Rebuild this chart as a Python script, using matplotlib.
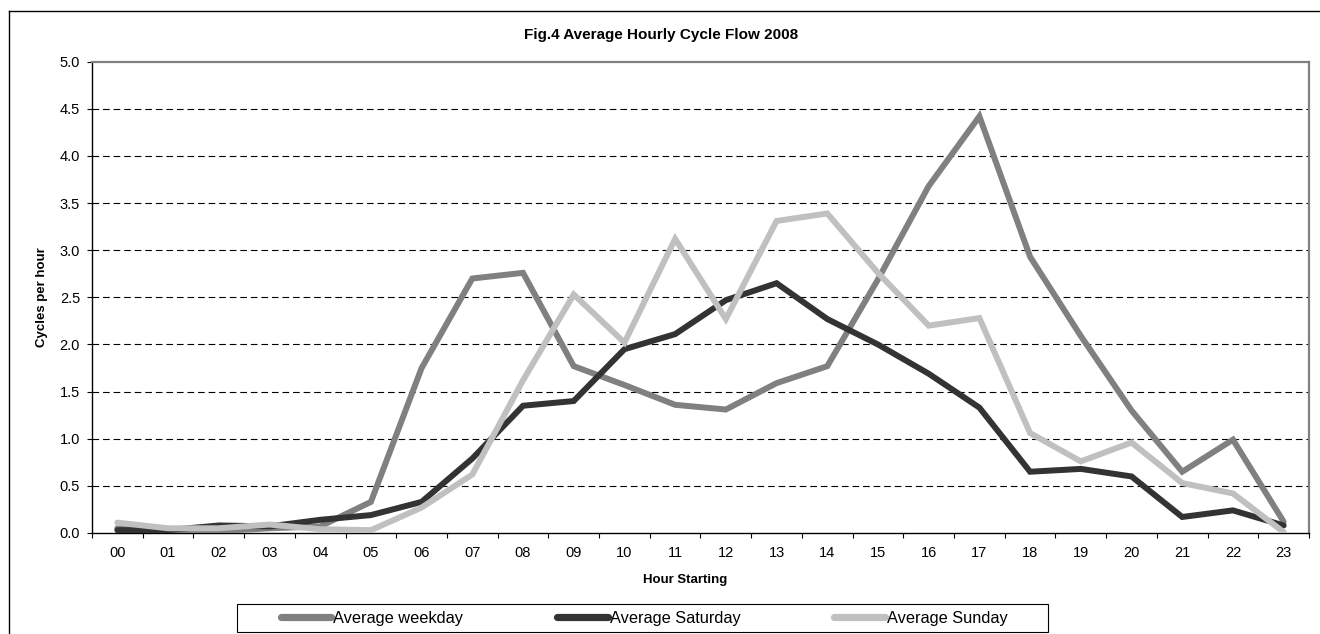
import matplotlib
matplotlib.use("Agg")
import matplotlib.pyplot as plt
from matplotlib.lines import Line2D
from matplotlib.patches import Rectangle
import numpy as np

hours = ["00", "01", "02", "03", "04", "05", "06", "07", "08", "09", "10", "11",
         "12", "13", "14", "15", "16", "17", "18", "19", "20", "21", "22", "23"]
weekday = [0.05, 0.03, 0.02, 0.05, 0.07, 0.33, 1.75, 2.70, 2.76, 1.77, 1.57, 1.36,
           1.31, 1.59, 1.77, 2.69, 3.68, 4.42, 2.93, 2.09, 1.30, 0.65, 0.99, 0.12]
saturday = [0.03, 0.03, 0.08, 0.07, 0.14, 0.19, 0.33, 0.79, 1.35, 1.40, 1.95, 2.11,
            2.47, 2.65, 2.27, 2.00, 1.69, 1.33, 0.65, 0.68, 0.60, 0.17, 0.24, 0.08]
sunday = [0.11, 0.05, 0.05, 0.09, 0.04, 0.03, 0.27, 0.62, 1.62, 2.53, 2.02, 3.12,
          2.27, 3.31, 3.39, 2.76, 2.20, 2.28, 1.06, 0.76, 0.96, 0.53, 0.42, 0.01]
series_names = ["Average weekday", "Average Saturday", "Average Sunday"]
series_colors = ["#808080", "#333333", "#c0c0c0"]
yticks = [0.0, 0.5, 1.0, 1.5, 2.0, 2.5, 3.0, 3.5, 4.0, 4.5, 5.0]

plt.rcParams['font.family'] = ['Liberation Sans', 'DejaVu Sans']

W, H = 1320, 634
fig = plt.figure(figsize=(W / 100, H / 100), dpi=100)
fig.patch.set_facecolor("white")

# outer chart border (partially cropped)
fig.add_artist(Line2D([8.5 / W, 8.5 / W], [0, 1 - 11 / H], color="black", lw=1.0,
                      transform=fig.transFigure))
fig.add_artist(Line2D([8.5 / W, 1], [1 - 11 / H, 1 - 11 / H], color="black", lw=1.0,
                      transform=fig.transFigure))

left, right, top, bottom = 92, 1309, 61.7, 533
ax = fig.add_axes([left / W, 1 - bottom / H, (right - left) / W, (bottom - top) / H])

x = np.arange(len(hours))
lines = []
for vals, name, col in zip([weekday, saturday, sunday], series_names, series_colors):
    ln, = ax.plot(x, vals, color=col, lw=4.3, solid_capstyle="round",
                  solid_joinstyle="miter", label=name, zorder=3)
    lines.append(ln)

ax.set_xlim(-0.5, len(hours) - 0.5)
ax.set_ylim(0, 5)
ax.set_yticks(yticks)
ax.set_yticklabels([f"{v:.1f}" for v in yticks])
for v in yticks[1:-1]:
    ax.axhline(v, color="black", lw=0.8, ls=(0, (6, 3.5)), zorder=1)

ax.set_xticks(np.arange(-0.5, len(hours), 1.0))
ax.set_xticklabels([])
ax.set_xticks(x, minor=True)
ax.set_xticklabels(hours, minor=True)
ax.tick_params(axis="x", which="major", length=3.6, width=0.8, direction="out", color="black")
ax.tick_params(axis="x", which="minor", length=0, pad=9.5, labelsize=10.5)
ax.tick_params(axis="y", length=3.6, width=0.8, direction="out", pad=5, labelsize=10.5)

for s in ["left", "bottom"]:
    ax.spines[s].set_color("black")
    ax.spines[s].set_linewidth(1.0)
for s in ["top", "right"]:
    ax.spines[s].set_color("#808080")
    ax.spines[s].set_linewidth(1.6)

fig.text(661 / W, 1 - 35 / H, "Fig.4 Average Hourly Cycle Flow 2008", ha="center", va="center",
         fontsize=11, fontweight="bold")
fig.text(685 / W, 1 - 580 / H, "Hour Starting", ha="center", va="center",
         fontsize=9.5, fontweight="bold")
fig.text(42 / W, 1 - ((top + bottom) / 2) / H, "Cycles per hour", ha="center", va="center",
         rotation=90, fontsize=9.5, fontweight="bold")

# legend box
fig.add_artist(Rectangle((237 / W, 1 - 632 / H), (1048 - 237) / W, (632 - 604) / H,
                         transform=fig.transFigure, fill=False, edgecolor="black", lw=0.8))
leg = fig.legend(handles=lines, loc="center", bbox_to_anchor=(644 / W, 1 - 618 / H),
                 ncol=3, frameon=False, fontsize=11.8, handlelength=3.1, handletextpad=0.12,
                 columnspacing=5.7, borderpad=0)
for h in leg.legend_handles:
    h.set_linewidth(5.2)

fig.savefig("out.png", dpi=100, facecolor="white")
